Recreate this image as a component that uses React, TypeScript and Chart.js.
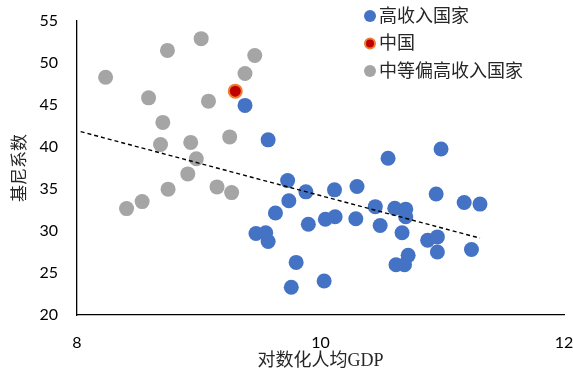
import React, { useEffect, useRef } from "react";
import { Chart, registerables } from "chart.js";

Chart.register(...registerables);

const highIncomeX = [9.38, 9.57, 10.555, 10.99, 9.73, 9.74, 9.88, 10.115, 10.3, 9.63, 10.45, 10.61, 10.7, 10.7, 10.95, 11.18, 11.31, 10.04, 10.12, 10.29, 9.9, 10.49, 10.67, 10.88, 10.96, 10.96, 11.24, 9.47, 9.55, 9.57, 9.8, 9.76, 10.03, 10.72, 10.62, 10.69];
const highIncomeY = [44.95, 40.85, 38.66, 39.76, 36.0, 33.6, 34.66, 34.9, 35.3, 32.15, 32.9, 32.7, 32.6, 31.7, 34.4, 33.4, 33.2, 31.4, 31.7, 31.45, 30.8, 30.65, 29.8, 28.9, 29.3, 27.5, 27.8, 29.7, 29.8, 28.75, 26.26, 23.3, 24.05, 27.1, 25.98, 25.98];
const chinaX = [9.3];
const chinaY = [46.65];
const upperMiddleX = [8.235, 8.743, 9.02, 9.46, 9.38, 8.588, 9.08, 8.705, 8.686, 8.934, 9.254, 8.98, 8.91, 8.407, 8.535, 8.748, 9.15, 9.27];
const upperMiddleY = [48.3, 51.5, 52.9, 50.9, 48.75, 45.85, 45.46, 42.93, 40.3, 40.55, 41.2, 38.6, 36.8, 32.67, 33.5, 34.98, 35.25, 34.57];
const trendX = [8.03, 11.31];
const trendY = [41.83, 29.15];

const seriesNames = ["高收入国家", "中国", "中等偏高收入国家"];
const xTicks = [8, 10, 12];
const yTicks = [20, 25, 30, 35, 40, 45, 50, 55];

const toPoints = (xs: number[], ys: number[]) => xs.map((x, i) => ({ x, y: ys[i] }));

const CJK = '"Liberation Serif", "Noto Sans CJK SC", serif';
const NUM = 'Lato, "Open Sans", sans-serif';

const insideLegend = {
  id: "insideLegend",
  afterDraw(chart: any) {
    const sorted = [...chart.data.datasets]
      .filter((d: any) => d.showInLegend)
      .sort((a: any, b: any) => a.legendOrder - b.legendOrder);
    const ctx = chart.ctx;
    ctx.save();
    ctx.font = `18px ${CJK}`;
    ctx.textBaseline = "middle";
    ctx.textAlign = "left";
    sorted.forEach((d: any, i: number) => {
      const cy = 16 + i * 27.5;
      const cx = 370;
      ctx.beginPath();
      ctx.arc(cx, cy, d.legendRadius, 0, Math.PI * 2);
      ctx.fillStyle = d.backgroundColor;
      ctx.fill();
      if (d.borderWidth > 0) {
        ctx.lineWidth = d.borderWidth;
        ctx.strokeStyle = d.borderColor;
        ctx.stroke();
      }
      ctx.fillStyle = "#262626";
      ctx.fillText(d.label, 379, cy + 1);
    });
    ctx.restore();
  },
};

export default function App() {
  const ref = useRef<HTMLCanvasElement | null>(null);

  useEffect(() => {
    if (!ref.current) return;
    const chart = new Chart(ref.current, {
      type: "scatter",
      data: {
        datasets: [
          {
            label: "trend",
            type: "line",
            data: toPoints(trendX, trendY),
            borderColor: "#000000",
            borderWidth: 1.4,
            borderDash: [4, 3],
            pointRadius: 0,
            fill: false,
            showInLegend: false,
          } as any,
          {
            label: seriesNames[2],
            data: toPoints(upperMiddleX, upperMiddleY),
            backgroundColor: "#A5A5A5",
            borderColor: "#A5A5A5",
            borderWidth: 0,
            pointRadius: 7.5,
            showInLegend: true,
            legendRadius: 6,
            legendOrder: 2,
          } as any,
          {
            label: seriesNames[0],
            data: toPoints(highIncomeX, highIncomeY),
            backgroundColor: "#4472C4",
            borderColor: "#4472C4",
            borderWidth: 0,
            pointRadius: 7.5,
            showInLegend: true,
            legendRadius: 6,
            legendOrder: 0,
          } as any,
          {
            label: seriesNames[1],
            data: toPoints(chinaX, chinaY),
            backgroundColor: "#C00000",
            borderColor: "#ED7D31",
            borderWidth: 2,
            pointRadius: 6.5,
            showInLegend: true,
            legendRadius: 5,
            legendOrder: 1,
          } as any,
        ],
      },
      options: {
        animation: false,
        responsive: false,
        maintainAspectRatio: false,
        layout: { padding: { top: 21, right: 9, left: 0, bottom: 0 } },
        plugins: {
          legend: { display: false },
          tooltip: { enabled: false },
        },
        scales: {
          x: {
            type: "linear",
            min: 8,
            max: 12,
            afterBuildTicks: (s: any) => {
              s.ticks = xTicks.map((v) => ({ value: v }));
            },
            afterFit: (s: any) => {
              s.height = 55;
              s.paddingLeft = 0;
              s.paddingRight = 0;
            },
            grid: { display: false, drawTicks: false },
            border: { display: true, color: "#000000", width: 1.3 },
            ticks: {
              color: "#000000",
              font: { family: NUM, size: 16 },
              padding: 18,
              maxRotation: 0,
            },
            title: {
              display: true,
              text: "对数化人均GDP",
              color: "#262626",
              font: { family: CJK, size: 18, lineHeight: 1 },
              padding: { top: 0, bottom: 0 },
            },
          },
          y: {
            type: "linear",
            min: 20,
            max: 55,
            afterBuildTicks: (s: any) => {
              s.ticks = yTicks.map((v) => ({ value: v }));
            },
            afterFit: (s: any) => {
              s.width = 77;
              s.paddingTop = 0;
              s.paddingBottom = 0;
            },
            grid: { display: false, drawTicks: false },
            border: { display: true, color: "#000000", width: 1.3 },
            ticks: {
              color: "#000000",
              font: { family: NUM, size: 16 },
              padding: 19,
            },
            title: {
              display: true,
              text: "基尼系数",
              color: "#262626",
              font: { family: CJK, size: 17 },
              padding: { top: 10, bottom: 0 },
            },
          },
        },
      },
      plugins: [insideLegend],
    } as any);
    return () => chart.destroy();
  }, []);

  return (
    <div style={{ position: "fixed", left: 0, top: 0, width: 573, height: 370, background: "#ffffff" }}>
      <canvas ref={ref} width={573} height={370} style={{ width: 573, height: 370, display: "block" }} />
    </div>
  );
}
